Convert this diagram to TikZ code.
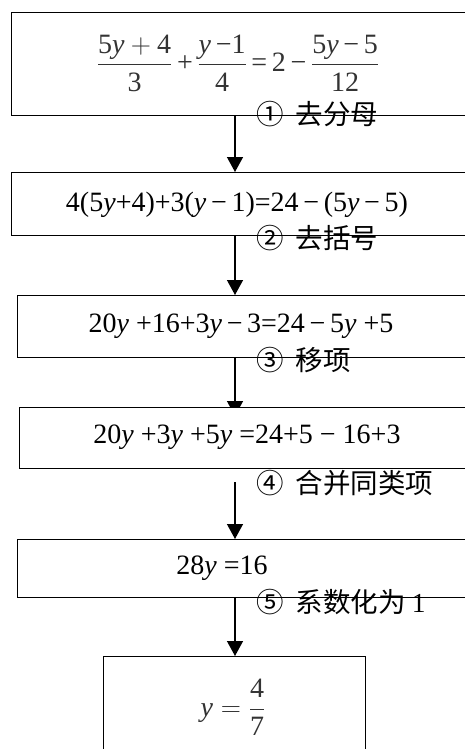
\RequirePackage{fix-cm}
\documentclass[tikz,border=0pt]{standalone}
\usepackage{amsmath}
\usepackage{fontspec}
\setmainfont{Liberation Serif}
\newfontfamily\cjk{Noto Sans CJK SC}
\usetikzlibrary{arrows.meta}
\begin{document}
\begin{tikzpicture}[x=1pt,y=-1pt,
  box/.style={draw,line width=1.4pt,fill=white,rectangle,anchor=north west,inner sep=0pt},
  eq/.style={font=\fontsize{28}{31}\selectfont,inner sep=0pt},
  lbl/.style={font=\fontsize{27.5}{30}\selectfont\cjk,anchor=west,inner sep=0pt},
  arr/.style={line width=1.4pt,-{Triangle[width=16pt,length=15pt]}}]
\useasboundingbox (0,0) rectangle (465,749);
\clip (0,0) rectangle (465,749);
\coordinate (ax) at (235,0);
% boxes 1-3
\node[box,minimum width=470pt,minimum height=103pt] (b1) at (11,12) {};
\node[box,minimum width=470pt,minimum height=63pt] (b2) at (11,172) {};
\node[box,minimum width=465pt,minimum height=62pt] (b3) at (17,295) {};
\draw[arr] (b1.south -| ax) -- (b2.north -| ax);
\draw[arr] (b2.south -| ax) -- (b3.north -| ax);
\coordinate (a3end) at (235,416);
\draw[arr] (b3.south -| ax) -- (a3end);
\node[box,minimum width=465pt,minimum height=61pt] (b4) at (19,407) {};
\node[box,minimum width=465pt,minimum height=58pt] (b5) at (17,539) {};
\node[box,minimum width=262pt,minimum height=110pt] (b6) at (103,656) {};
\coordinate (a4start) at (235,482);
\draw[arr] (a4start) -- (b5.north -| ax);
\draw[arr] (b5.south -| ax) -- (b6.north -| ax);
% equations
\node[eq,text=black!80] (t1) at (238,63) {$\dfrac{\mbox{5\textit{y}}+\mbox{4}}{\mbox{3}}\mbox{\,+\,}\dfrac{\mbox{\textit{y}}\mbox{\,−1}}{\mbox{4}}\mbox{\,=\,2\,−\,}\dfrac{\mbox{5\textit{y}\,−\,5}}{\mbox{12}}$};
\node[eq] (t2) at (237,205) {4(5\textit{y}+4)+3(\textit{y}\,−\,1)=24\,−\,(5\textit{y}\,−\,5)};
\node[eq] (t3) at (241,326) {20\textit{y} +16+3\textit{y}\,−\,3=24\,−\,5\textit{y} +5};
\node[eq] (t4) at (247,437) {20\textit{y} +3\textit{y} +5\textit{y} =24+5 − 16+3};
\node[eq] (t5) at (222,568) {28\textit{y} =16};
\node[eq,text=black!80] (t6) at (233,707) {$\mbox{\textit{y}} = \dfrac{\mbox{4}}{\mbox{7}}$};
% labels
\node[lbl] (l1) at (256,114) {①\hspace{12pt}去分母};
\node[lbl] (l2) at (256,238) {②\hspace{12pt}去括号};
\node[lbl] (l3) at (256,360) {③\hspace{12pt}移项};
\node[lbl] (l4) at (256,483) {④\hspace{12pt}合并同类项};
\node[lbl] (l5) at (256,602) {⑤\hspace{12pt}系数化为 {\rmfamily 1}};
\end{tikzpicture}
\end{document}
